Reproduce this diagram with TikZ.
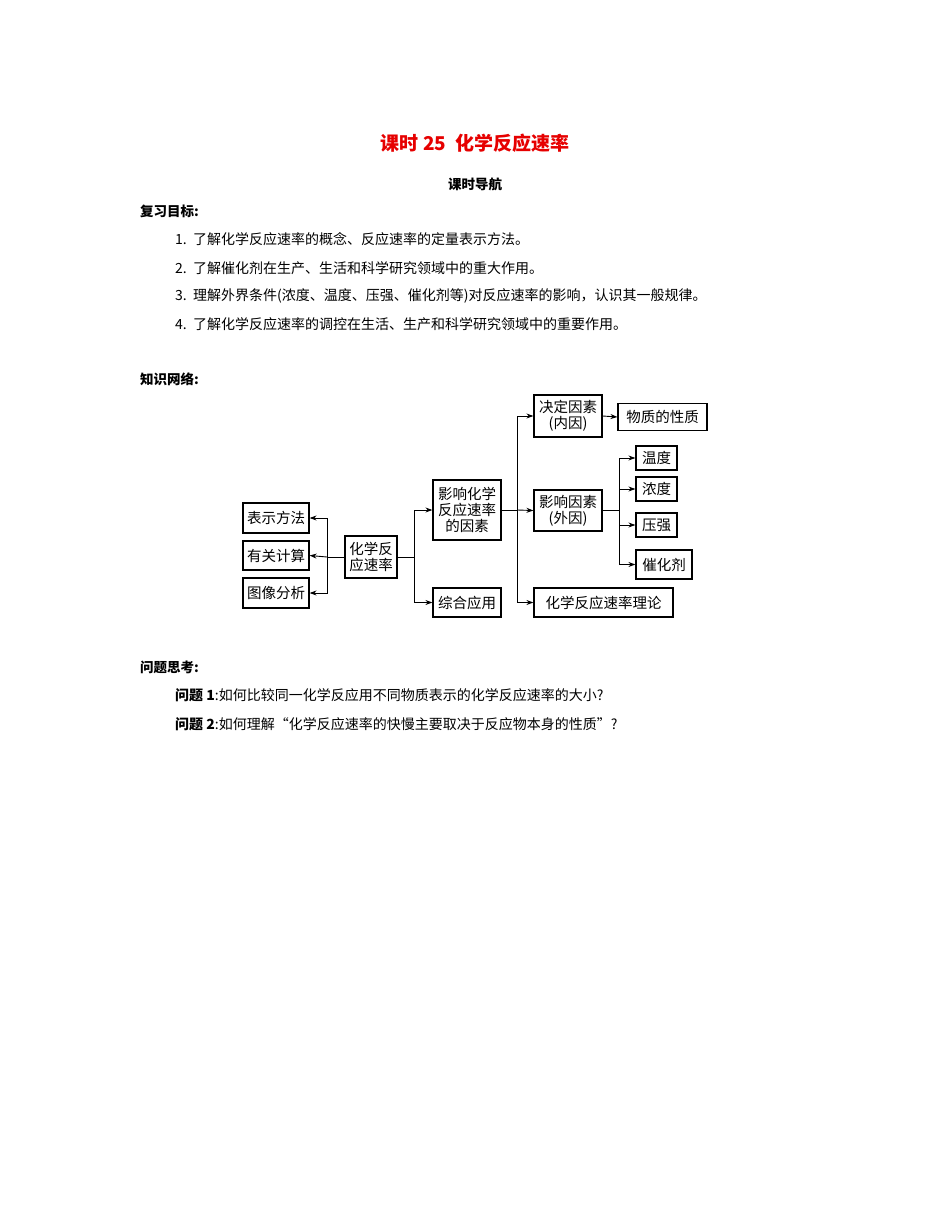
\documentclass[tikz,border=0pt]{standalone}
\usepackage{fontspec}
\setmainfont{Liberation Serif}
\newfontfamily\cjk{Noto Sans CJK SC}
\usetikzlibrary{arrows.meta}
\definecolor{titlered}{RGB}{230,0,0}
\begin{document}
\begin{tikzpicture}[x=1pt,y=-1pt,
 bx/.style={draw,line width=1.2pt,inner sep=0pt,align=center,font=\cjk\fontsize{14.5}{16}\selectfont},
 ar/.style={line width=0.9pt,-{Stealth[length=7pt,width=5pt]}},
 ln/.style={line width=0.9pt},
 tx/.style={anchor=west,inner sep=0pt,font=\cjk\fontsize{14}{16}\selectfont}]
\useasboundingbox (0,0) rectangle (950,1230);
\node[inner sep=0pt,text=titlered,font=\cjk\bfseries\fontsize{19}{21}\selectfont] (title) at (475,143) {课时 25\ \ 化学反应速率};
\node[inner sep=0pt,font=\cjk\bfseries\fontsize{13.5}{15}\selectfont] (nav) at (475,184) {课时导航};
\node[tx,font=\cjk\bfseries\fontsize{13.5}{15}\selectfont] (goal) at (140,211) {复习目标:};
\node[tx] (g1) at (175,239) {1.\ \ 了解化学反应速率的概念、反应速率的定量表示方法。};
\node[tx] (g2) at (175,268) {2.\ \ 了解催化剂在生产、生活和科学研究领域中的重大作用。};
\node[tx] (g3) at (175,296) {3.\ \ 理解外界条件(浓度、温度、压强、催化剂等)对反应速率的影响，认识其一般规律。};
\node[tx] (g4) at (175,324) {4.\ \ 了解化学反应速率的调控在生活、生产和科学研究领域中的重要作用。};
\node[tx,font=\cjk\bfseries\fontsize{13.5}{15}\selectfont] (net) at (140,379) {知识网络:};
\node[tx,font=\cjk\bfseries\fontsize{13.5}{15}\selectfont] (think) at (140,667) {问题思考:};
\node[tx] (q1) at (175,695) {\textbf{问题 1}:如何比较同一化学反应用不同物质表示的化学反应速率的大小?};
\node[tx] (q2) at (175,724) {\textbf{问题 2}:如何理解“化学反应速率的快慢主要取决于反应物本身的性质”?};
% boxes
\node[bx,minimum width=66,minimum height=30] (bs) at (276,518) {表示方法};
\node[bx,minimum width=66,minimum height=29] (yg) at (276,555.5) {有关计算};
\node[bx,minimum width=66,minimum height=30] (tx1) at (276,593) {图像分析};
\node[bx,minimum width=52,minimum height=42] (root) at (371,557) {化学反\\应速率};
\node[bx,minimum width=68,minimum height=60] (yx) at (467,510) {影响化学\\反应速率\\的因素};
\node[bx,minimum width=68,minimum height=29] (zh) at (467,602.5) {综合应用};
\node[bx,minimum width=68,minimum height=42] (jd) at (568,416) {决定因素\\(内因)};
\node[bx,minimum width=89,minimum height=27] (wz) at (662.5,417) {物质的性质};
\node[bx,minimum width=41,minimum height=24] (wd) at (656.5,458) {温度};
\node[bx,minimum width=41,minimum height=24] (nd) at (656.5,489) {浓度};
\node[bx,minimum width=68,minimum height=41] (yy) at (568,510.5) {影响因素\\(外因)};
\node[bx,minimum width=41,minimum height=24] (yq) at (656.5,525) {压强};
\node[bx,minimum width=56,minimum height=29] (chj) at (664,564.5) {催化剂};
\node[bx,minimum width=139,minimum height=29] (ll) at (603.5,602.5) {化学反应速率理论};
% connectors
\coordinate (lb) at (327,557);
\draw[ln] (root.west) -- (lb);
\draw[ar] (lb) |- (bs.east);
\draw[ar] (lb) -- (yg.east);
\draw[ar] (lb) |- (tx1.east);
\coordinate (rb) at (414,557);
\draw[ln] (root.east) -- (rb);
\draw[ar] (rb) |- (yx.west);
\draw[ar] (rb) |- (zh.west);
\coordinate (mb) at (517,510);
\draw[ln] (yx.east) -- (mb);
\draw[ar] (mb) |- (jd.west);
\draw[ar] (mb) -- (yy.west);
\draw[ar] (mb) |- (ll.west);
\draw[ar] (jd.east) -- (wz.west);
\coordinate (eb) at (619,510.5);
\draw[ln] (yy.east) -- (eb);
\draw[ar] (eb) |- (wd.west);
\draw[ar] (eb) |- (nd.west);
\draw[ar] (eb) |- (yq.west);
\draw[ar] (eb) |- (chj.west);
\end{tikzpicture}
\end{document}
